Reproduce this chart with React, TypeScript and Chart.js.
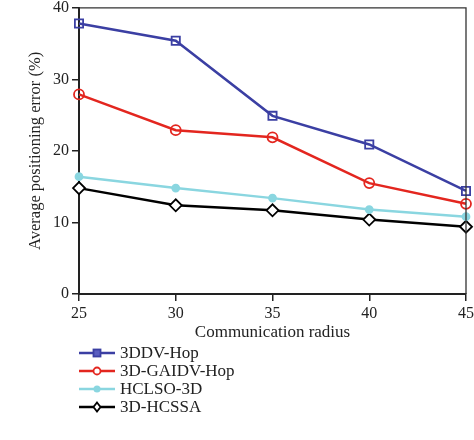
import React, { useEffect, useRef } from "react";
import { Chart, registerables } from "chart.js";

Chart.register(...registerables);

const radii = [25, 30, 35, 40, 45];
const seriesNames = ["3DDV-Hop", "3D-GAIDV-Hop", "HCLSO-3D", "3D-HCSSA"];
const ddvHop = [37.8, 35.4, 24.9, 20.9, 14.4];
const gaidvHop = [27.9, 22.9, 21.9, 15.5, 12.6];
const hclso3d = [16.4, 14.8, 13.4, 11.8, 10.8];
const hcssa3d = [14.8, 12.4, 11.7, 10.4, 9.4];
const yTicks = [0, 10, 20, 30, 40];
const xTicks = [25, 30, 35, 40, 45];

const FONT = "'Liberation Serif', 'DejaVu Serif', serif";

const colors = ["#3b3fa3", "#e3261f", "#8ad6e0", "#000000"];
const pointStyles = ["rect", "circle", "circle", "rectRot"];
const pointRadii = [5.8, 5, 3.5, 6];
const pointFills = ["rgba(255,255,255,0)", "rgba(255,255,255,0)", "#8ad6e0", "#ffffff"];

const frameAndLegend = {
  id: "frameAndLegend",
  afterDraw(chart: any) {
    const ctx = chart.ctx;
    const a = chart.chartArea;
    ctx.save();
    // top and right frame
    ctx.strokeStyle = "#333";
    ctx.lineWidth = 1.3;
    ctx.beginPath();
    ctx.moveTo(a.left, a.top);
    ctx.lineTo(a.right, a.top);
    ctx.lineTo(a.right, a.bottom);
    ctx.stroke();

    // legend
    const x0 = a.left;
    const y0 = 353;
    const step = 18;
    chart.data.datasets.forEach((ds: any, i: number) => {
      const y = y0 + i * step;
      ctx.strokeStyle = ds.borderColor;
      ctx.lineWidth = 2.5;
      ctx.beginPath();
      ctx.moveTo(x0, y);
      ctx.lineTo(x0 + 36, y);
      ctx.stroke();
      const mx = x0 + 18;
      ctx.lineWidth = 1.8;
      if (i === 0) {
        ctx.fillStyle = "#5a5ec0";
        ctx.fillRect(mx - 3.5, y - 3.5, 7, 7);
        ctx.strokeRect(mx - 3.5, y - 3.5, 7, 7);
      } else if (i === 1) {
        ctx.fillStyle = "#ffffff";
        ctx.beginPath();
        ctx.arc(mx, y, 3.5, 0, Math.PI * 2);
        ctx.fill();
        ctx.stroke();
      } else if (i === 2) {
        ctx.fillStyle = ds.borderColor;
        ctx.beginPath();
        ctx.arc(mx, y, 3.5, 0, Math.PI * 2);
        ctx.fill();
      } else {
        ctx.fillStyle = "#ffffff";
        ctx.beginPath();
        ctx.moveTo(mx, y - 4.5);
        ctx.lineTo(mx + 3.5, y);
        ctx.lineTo(mx, y + 4.5);
        ctx.lineTo(mx - 3.5, y);
        ctx.closePath();
        ctx.fill();
        ctx.stroke();
      }
      ctx.fillStyle = "#222";
      ctx.font = `17px ${FONT}`;
      ctx.textBaseline = "middle";
      ctx.textAlign = "left";
      ctx.fillText(ds.label, x0 + 41, y + 1);
    });
    ctx.restore();
  },
};

export default function App() {
  const ref = useRef<HTMLCanvasElement | null>(null);

  useEffect(() => {
    document.body.style.margin = "0";
    const seriesData = [ddvHop, gaidvHop, hclso3d, hcssa3d];
    const datasets = seriesNames.map((name, i) => ({
      label: name,
      data: radii.map((r, j) => ({ x: r, y: seriesData[i][j] })),
      borderColor: colors[i],
      backgroundColor: pointFills[i],
      pointStyle: pointStyles[i],
      pointRadius: pointRadii[i],
      pointBorderWidth: 1.8,
      pointBorderColor: colors[i],
      pointBackgroundColor: pointFills[i],
      borderWidth: 2.5,
      tension: 0,
      clip: false as any,
    }));

    const chart = new Chart(ref.current!, {
      type: "line",
      data: { datasets },
      options: {
        animation: false,
        responsive: false,
        devicePixelRatio: 1,
        layout: { padding: { left: 0, right: 8, top: 6, bottom: 0 } },
        plugins: { legend: { display: false }, tooltip: { enabled: false } },
        scales: {
          x: {
            type: "linear",
            min: 25,
            max: 45,
            afterBuildTicks: (s: any) => {
              s.ticks = xTicks.map((v) => ({ value: v }));
            },
            afterFit: (s: any) => {
              s.height = 440 - 294;
              s.paddingLeft = 0;
              s.paddingRight = 0;
            },
            grid: {
              drawOnChartArea: false,
              drawTicks: true,
              tickLength: 7,
              color: "#222",
              lineWidth: 1.5,
            },
            border: { display: true, color: "#222", width: 2 },
            ticks: {
              color: "#222",
              font: { family: FONT, size: 16 },
              padding: 3,
              maxRotation: 0,
            },
            title: {
              display: true,
              text: "Communication radius",
              color: "#222",
              font: { family: FONT, size: 17 },
              padding: { top: 0, bottom: 97 },
            },
          },
          y: {
            type: "linear",
            min: 0,
            max: 40,
            afterBuildTicks: (s: any) => {
              s.ticks = yTicks.map((v) => ({ value: v }));
            },
            afterFit: (s: any) => {
              s.width = 79;
              s.paddingTop = 0;
              s.paddingBottom = 0;
            },
            grid: {
              drawOnChartArea: false,
              drawTicks: true,
              tickLength: 7,
              color: "#222",
              lineWidth: 1.5,
            },
            border: { display: true, color: "#222", width: 2 },
            ticks: {
              color: "#222",
              font: { family: FONT, size: 16 },
              padding: 3,
            },
            title: {
              display: true,
              text: "Average positioning error (%)",
              color: "#222",
              font: { family: FONT, size: 16.5 },
              padding: { top: 26, bottom: 0 },
            },
          },
        },
      },
      plugins: [frameAndLegend],
    });
    return () => chart.destroy();
  }, []);

  return (
    <div style={{ width: 474, height: 440, position: "relative" }}>
      <canvas ref={ref} width={474} height={440} style={{ display: "block" }} />
    </div>
  );
}
